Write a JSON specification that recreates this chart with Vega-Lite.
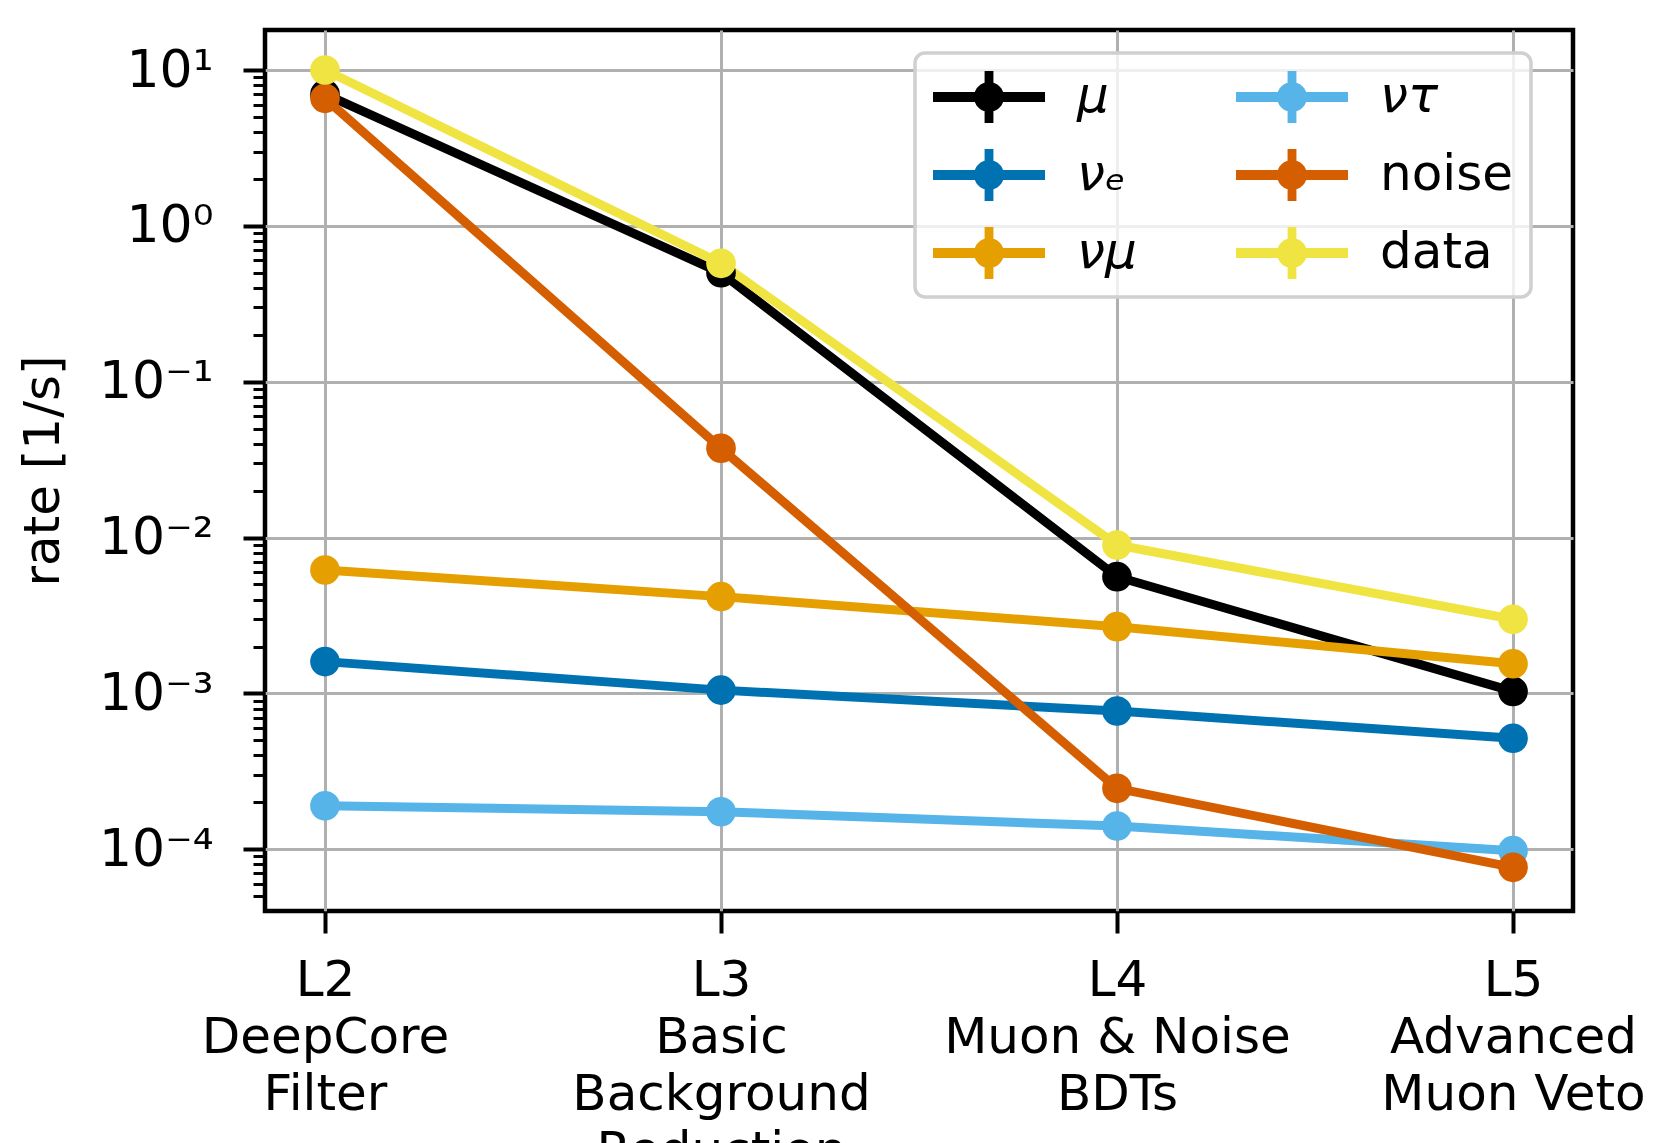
{
  "$schema": "https://vega.github.io/schema/vega-lite/v6.json",
  "autosize": {"type": "none"},
  "width": 1308,
  "height": 881,
  "padding": {"left": 265, "top": 30, "right": 93, "bottom": 232},
  "background": "white",
  "config": {
    "font": "DejaVu Sans",
    "view": {"stroke": "black", "strokeWidth": 4.5}
  },
  "data": {
    "values": [
      {"stage": "L2|DeepCore|Filter", "series": "μ", "rate": 7.0},
      {"stage": "L3|Basic|Background|Reduction", "series": "μ", "rate": 0.50},
      {"stage": "L4|Muon & Noise|BDTs", "series": "μ", "rate": 0.00561},
      {"stage": "L5|Advanced|Muon Veto", "series": "μ", "rate": 0.00103},
      {"stage": "L2|DeepCore|Filter", "series": "νₑ", "rate": 0.00160},
      {"stage": "L3|Basic|Background|Reduction", "series": "νₑ", "rate": 0.00105},
      {"stage": "L4|Muon & Noise|BDTs", "series": "νₑ", "rate": 0.000771},
      {"stage": "L5|Advanced|Muon Veto", "series": "νₑ", "rate": 0.000516},
      {"stage": "L2|DeepCore|Filter", "series": "νμ", "rate": 0.00619},
      {"stage": "L3|Basic|Background|Reduction", "series": "νμ", "rate": 0.00418},
      {"stage": "L4|Muon & Noise|BDTs", "series": "νμ", "rate": 0.00268},
      {"stage": "L5|Advanced|Muon Veto", "series": "νμ", "rate": 0.00155},
      {"stage": "L2|DeepCore|Filter", "series": "ντ", "rate": 0.000190},
      {"stage": "L3|Basic|Background|Reduction", "series": "ντ", "rate": 0.000174},
      {"stage": "L4|Muon & Noise|BDTs", "series": "ντ", "rate": 0.000141},
      {"stage": "L5|Advanced|Muon Veto", "series": "ντ", "rate": 0.000098},
      {"stage": "L2|DeepCore|Filter", "series": "noise", "rate": 6.58},
      {"stage": "L3|Basic|Background|Reduction", "series": "noise", "rate": 0.0374},
      {"stage": "L4|Muon & Noise|BDTs", "series": "noise", "rate": 0.000246},
      {"stage": "L5|Advanced|Muon Veto", "series": "noise", "rate": 0.0000766},
      {"stage": "L2|DeepCore|Filter", "series": "data", "rate": 10.0},
      {"stage": "L3|Basic|Background|Reduction", "series": "data", "rate": 0.575},
      {"stage": "L4|Muon & Noise|BDTs", "series": "data", "rate": 0.00896},
      {"stage": "L5|Advanced|Muon Veto", "series": "data", "rate": 0.00299}
    ]
  },
  "encoding": {
    "x": {
      "field": "stage", "type": "ordinal", "sort": null,
      "scale": {"type": "point", "padding": 0.1515},
      "axis": {
        "title": null, "domain": false, "labelAngle": 0,
        "labelExpr": "split(datum.label, '|')",
        "labelFontSize": 50, "labelLineHeight": 57, "labelColor": "black",
        "labelBaseline": "top", "labelPadding": 22, "labelLimit": 1000,
        "labelOverlap": false, "labelBound": false,
        "tickSize": 22, "tickWidth": 4, "tickColor": "black",
        "grid": true, "gridColor": "#b0b0b0", "gridWidth": 3
      }
    },
    "y": {
      "field": "rate", "type": "quantitative",
      "scale": {"type": "log", "domain": [0.00004018, 18.06], "nice": false, "zero": false},
      "axis": {
        "title": "rate [1/s]", "titleFontSize": 50, "titleFontWeight": "normal", "titleColor": "black", "titlePadding": 30,
        "domain": false,
        "values": [0.00005, 0.00006, 0.00007, 0.00008, 0.00009,
                   0.0001, 0.0002, 0.0003, 0.0004, 0.0005, 0.0006, 0.0007, 0.0008, 0.0009,
                   0.001, 0.002, 0.003, 0.004, 0.005, 0.006, 0.007, 0.008, 0.009,
                   0.01, 0.02, 0.03, 0.04, 0.05, 0.06, 0.07, 0.08, 0.09,
                   0.1, 0.2, 0.3, 0.4, 0.5, 0.6, 0.7, 0.8, 0.9,
                   1, 2, 3, 4, 5, 6, 7, 8, 9, 10],
        "labelExpr": "datum.value == 10 ? '10¹' : datum.value == 1 ? '10⁰' : datum.value == 0.1 ? '10⁻¹' : datum.value == 0.01 ? '10⁻²' : datum.value == 0.001 ? '10⁻³' : datum.value == 0.0001 ? '10⁻⁴' : ''",
        "labelFontSize": 52, "labelColor": "black", "labelPadding": 30,
        "labelOverlap": false, "labelBound": false,
        "tickColor": "black",
        "tickSize": {"condition": {"test": "indexof([10,1,0.1,0.01,0.001,0.0001], datum.value) >= 0", "value": 22}, "value": 12},
        "tickWidth": {"condition": {"test": "indexof([10,1,0.1,0.01,0.001,0.0001], datum.value) >= 0", "value": 4}, "value": 3},
        "grid": true, "gridColor": "#b0b0b0", "gridWidth": 3,
        "gridOpacity": {"condition": {"test": "indexof([10,1,0.1,0.01,0.001,0.0001], datum.value) >= 0", "value": 1}, "value": 0}
      }
    },
    "color": {"field": "series", "type": "nominal",
      "scale": {"domain": ["μ", "ντ", "νₑ", "noise", "νμ", "data"],
                "range": ["#000000", "#56B4E9", "#0072B2", "#D55E00", "#E69F00", "#F0E442"]},
      "legend": {
        "title": null, "orient": "none", "legendX": 650, "legendY": 23,
        "columns": 2, "direction": "horizontal",
        "symbolType": "M-1,-0.19H3.308V0.19H-1Z M0.984,-1H1.324V1H0.984Z M0.577,0A0.577,0.577 0 1,1 1.731,0A0.577,0.577 0 1,1 0.577,0Z",
        "symbolSize": 2704, "symbolStrokeWidth": 0, "symbolOpacity": 1,
        "labelFontSize": 50, "labelColor": "black", "labelOffset": 92, "labelLimit": 400,
        "columnPadding": 99, "rowPadding": 26,
        "padding": 18, "fillColor": "rgba(255,255,255,0.8)", "strokeColor": "#d0d0d0", "cornerRadius": 10,
        "encode": {
          "legend": {"update": {"strokeWidth": {"value": 3.5}}},
          "symbols": {"update": {"fill": {"scale": "color", "field": "value"}, "strokeWidth": {"value": 0}}},
          "labels": {"update": {"fontStyle": {"signal": "datum.label == 'noise' || datum.label == 'data' ? 'normal' : 'italic'"}}}
        }
      }
    }
  },
  "layer": [
    {
      "mark": {"type": "line", "strokeWidth": 9}
    },
    {
      "mark": {"type": "point", "filled": true, "opacity": 1, "size": 880, "shape": "circle"}
    }
  ]
}
